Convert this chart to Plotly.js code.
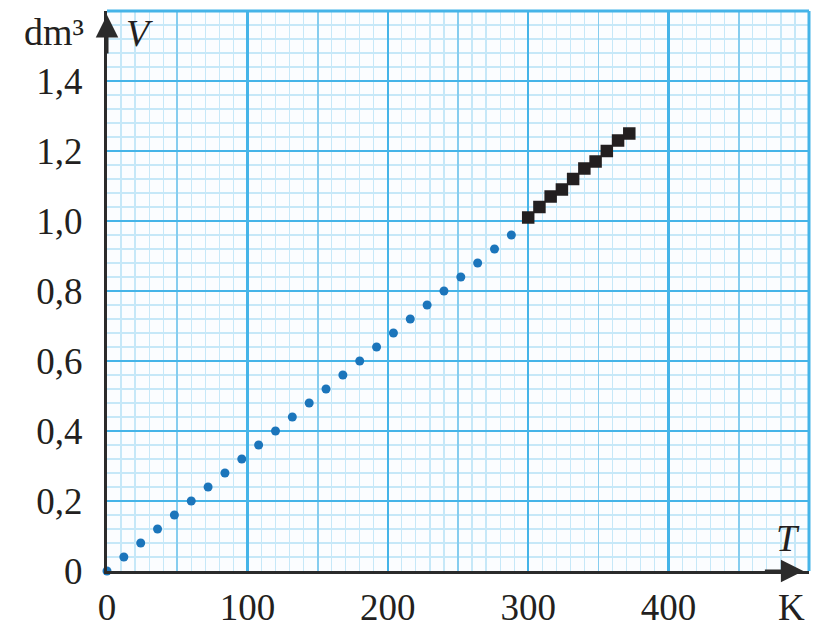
<!DOCTYPE html>
<html>
<head>
<meta charset="utf-8">
<script src="https://cdn.plot.ly/plotly-3.0.1.min.js"></script>
<style>html,body{margin:0;padding:0;background:#fff;}#chart{width:815px;height:628px;}</style>
</head>
<body>
<div id="chart"></div>
<script>
// Data
const tBlue = [0, 12, 24, 36, 48, 60, 72, 84, 96, 108, 120, 132, 144, 156, 168, 180, 192, 204, 216, 228, 240, 252, 264, 276, 288];
const vBlue = [0, 0.04, 0.08, 0.12, 0.16, 0.20, 0.24, 0.28, 0.32, 0.36, 0.40, 0.44, 0.48, 0.52, 0.56, 0.60, 0.64, 0.68, 0.72, 0.76, 0.80, 0.84, 0.88, 0.92, 0.96];
const tBlack = [300, 308, 316, 324, 332, 340, 348, 356, 364, 372];
const vBlack = [1.01, 1.04, 1.07, 1.09, 1.12, 1.15, 1.17, 1.20, 1.23, 1.25];
const xTickVals = [0, 100, 200, 300, 400];
const xTickText = ['0', '100', '200', '300', '400'];
const yTickVals = [0, 0.2, 0.4, 0.6, 0.8, 1.0, 1.2, 1.4];
const yTickText = ['0', '0,2', '0,4', '0,6', '0,8', '1,0', '1,2', '1,4'];

const FONT = 'Liberation Serif, DejaVu Serif, serif';
const INK = '#231f20';
const BLUE = '#1b75bb';
const GRID_MAJOR = '#45b4e8';
const GRID_MED = '#86cdef';
const GRID_MINOR = '#c6e8f8';

const traces = [
  {x: [0], y: [0], xaxis: 'x2', yaxis: 'y', mode: 'markers', marker: {opacity: 0}, hoverinfo: 'skip', showlegend: false},
  {x: tBlue, y: vBlue, mode: 'markers', marker: {color: BLUE, size: 9, symbol: 'circle'}, showlegend: false, cliponaxis: false},
  {x: tBlack, y: vBlack, mode: 'markers', marker: {color: INK, size: 12.5, symbol: 'square'}, showlegend: false}
];

const layout = {
  width: 815, height: 628,
  margin: {l: 107, r: 6, t: 11, b: 57},
  paper_bgcolor: '#ffffff',
  plot_bgcolor: '#fbfdff',
  font: {family: FONT, color: INK, size: 37},
  xaxis: {
    range: [0, 500], tickvals: [0, 50, 100, 150, 200, 250, 300, 350, 400, 450],
    ticktext: ['0', '', '100', '', '200', '', '300', '', '400', ''],
    showgrid: true, gridcolor: GRID_MED, gridwidth: 1.8, zeroline: false,
    minor: {dtick: 10, tick0: 0, showgrid: true, gridcolor: GRID_MINOR, gridwidth: 1.2},
    showline: true, linecolor: '#2b2b2b', linewidth: 3, ticks: '',
    ticklabelstandoff: 2, tickfont: {family: FONT, size: 37, color: INK}, fixedrange: true
  },
  xaxis2: {
    range: [0, 500], overlaying: 'x', anchor: 'y', tickvals: xTickVals,
    showgrid: true, gridcolor: GRID_MAJOR, gridwidth: 2.5, zeroline: false,
    showticklabels: false, ticks: '', showline: false
  },
  yaxis: {
    range: [0, 1.6], tickvals: yTickVals, ticktext: yTickText,
    showgrid: true, gridcolor: GRID_MAJOR, gridwidth: 2.5, zeroline: false,
    minor: {dtick: 0.04, tick0: 0, showgrid: true, gridcolor: GRID_MINOR, gridwidth: 1.2},
    showline: true, linecolor: '#2b2b2b', linewidth: 3, ticks: '',
    ticklabelstandoff: 14, tickfont: {family: FONT, size: 37, color: INK}, fixedrange: true
  },
  shapes: [
    {type: 'line', xref: 'paper', yref: 'paper', x0: 0, x1: 1, y0: 1, y1: 1, line: {color: GRID_MAJOR, width: 3}},
    {type: 'line', xref: 'paper', yref: 'paper', x0: 1, x1: 1, y0: 0, y1: 1, line: {color: GRID_MAJOR, width: 3}}
  ],
  annotations: [
    {xref: 'paper', yref: 'paper', x: 0, y: 0.993, ax: 0, ay: 40, showarrow: true, arrowhead: 2, arrowsize: 1.5, arrowwidth: 3, arrowcolor: '#2b2b2b', standoff: 0, text: ''},
    {xref: 'paper', yref: 'paper', x: 0.992, y: 0, ax: -40, ay: 0, showarrow: true, arrowhead: 2, arrowsize: 1.5, arrowwidth: 3, arrowcolor: '#2b2b2b', standoff: 0, text: ''},
    {xref: 'paper', yref: 'paper', x: -0.075, y: 0.963, xanchor: 'center', yanchor: 'middle', showarrow: false, text: 'dm³', font: {family: FONT, size: 38, color: INK}},
    {xref: 'paper', yref: 'paper', x: 0.047, y: 0.961, xanchor: 'center', yanchor: 'middle', showarrow: false, text: '<i>V</i>', font: {family: FONT, size: 38, color: INK}},
    {xref: 'paper', yref: 'paper', x: 0.97, y: 0.059, xanchor: 'center', yanchor: 'middle', showarrow: false, text: '<i>T</i>', font: {family: FONT, size: 38, color: INK}},
    {xref: 'paper', yref: 'paper', x: 0.975, y: -0.065, xanchor: 'center', yanchor: 'middle', showarrow: false, text: 'K', font: {family: FONT, size: 37, color: INK}}
  ]
};

Plotly.newPlot('chart', traces, layout, {displayModeBar: false, staticPlot: true});
</script>
</body>
</html>
